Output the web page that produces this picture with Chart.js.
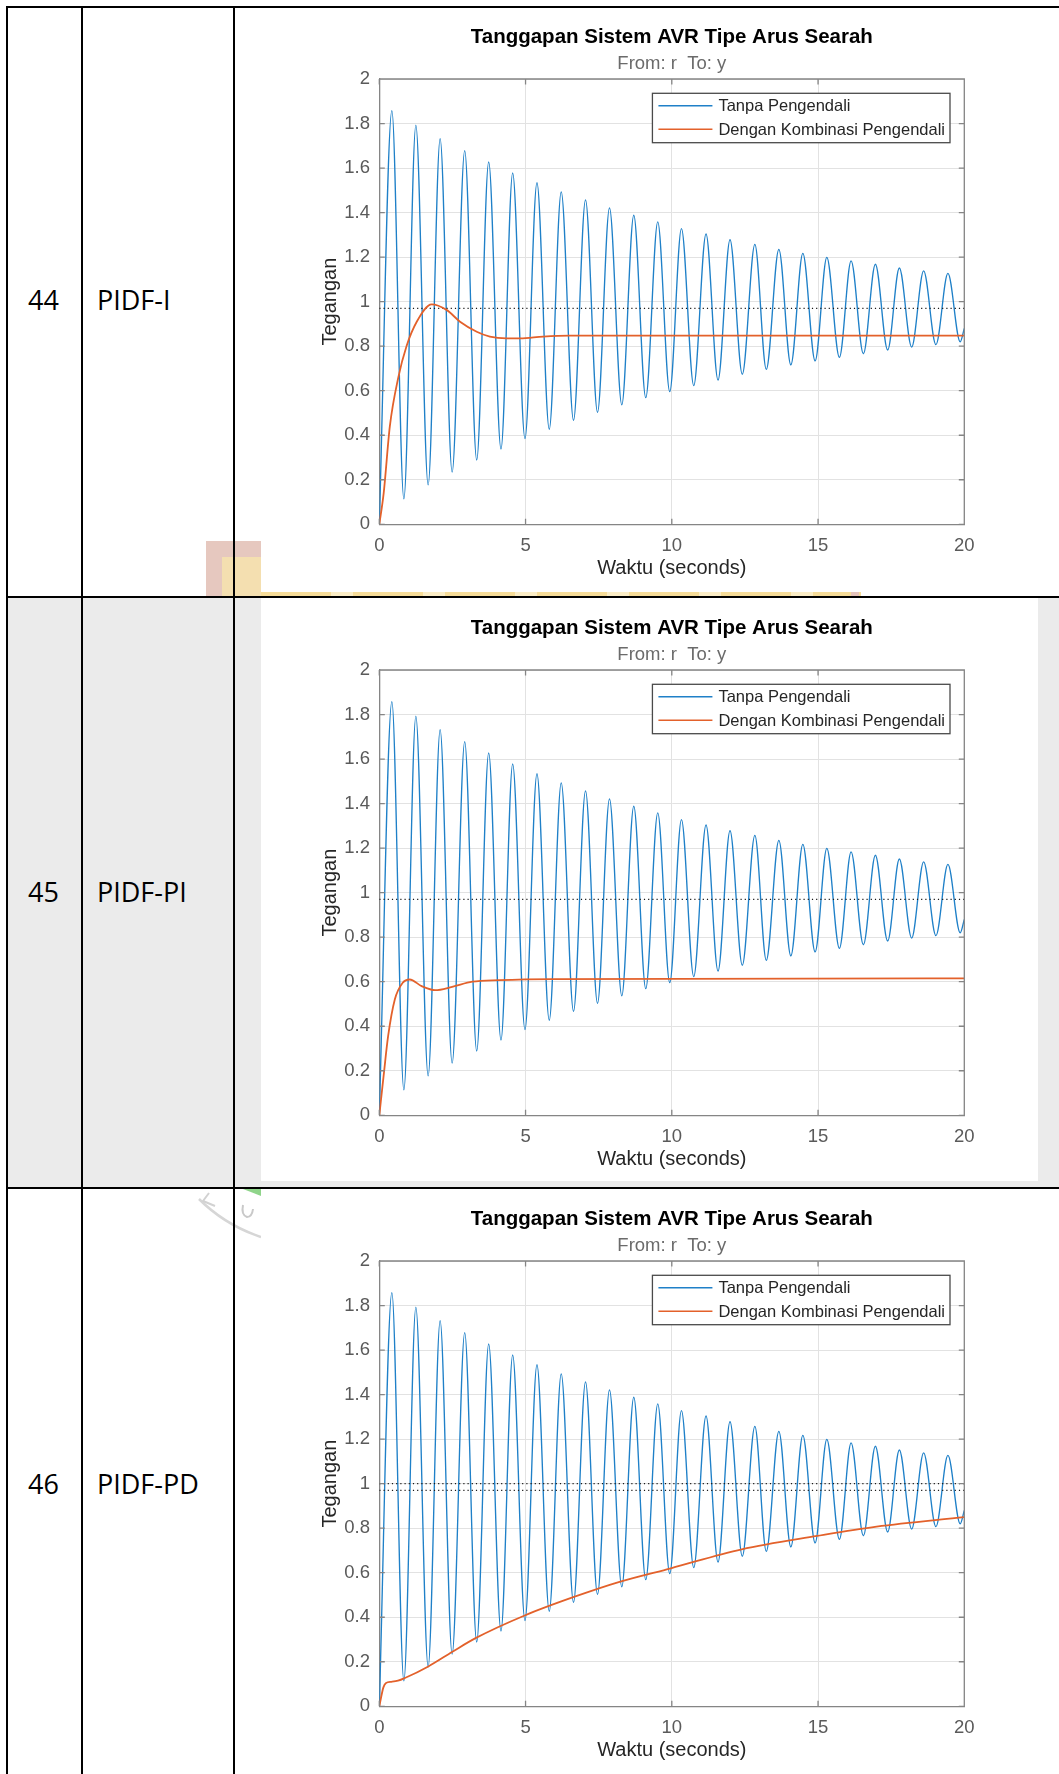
<!DOCTYPE html>
<html lang="id">
<head>
<meta charset="utf-8">
<title>Tanggapan Sistem AVR Tipe Arus Searah</title>
<script src="https://cdn.jsdelivr.net/npm/chart.js@4.4.1/dist/chart.umd.min.js"></script>
<style>
  html, body { margin: 0; padding: 0; background: #fff; }
  body { position: relative; width: 1059px; height: 1774px; overflow: hidden; }
  .cell-gray { position: absolute; left: 6px; top: 597px; width: 1053px; height: 591px; background: #ebebeb; }
  .shot { position: absolute; left: 261px; width: 777px; background: #fff; }
  .rule-h { position: absolute; left: 6px; width: 1053px; height: 2px; background: #000; }
  .rule-v { position: absolute; top: 6px; width: 2px; height: 1768px; background: #000; }
  .label { position: absolute; font-family: "Open Sans", "Noto Sans", sans-serif; font-size: 27px; line-height: 27px; color: #000; white-space: nowrap; }
  canvas { position: absolute; left: 261px; }
</style>
</head>
<body>
  <div class="cell-gray"></div>

  <!-- faint logo watermark showing around the pasted plots -->
  <div style="position:absolute;left:206px;top:541px;width:55px;height:56px;background:#e6c8bf"></div>
  <div style="position:absolute;left:222px;top:557px;width:39px;height:40px;background:#f4dfb0"></div>
  <div style="position:absolute;left:261px;top:588px;width:600px;height:9px;background:repeating-linear-gradient(90deg,#f6dc98 0 70px,#fbedc6 70px 92px)"></div>
  <div style="position:absolute;left:851px;top:578px;width:8px;height:19px;background:#e5c3bb"></div>
  <svg style="position:absolute;left:195px;top:1189px" width="66" height="55">
    <path d="M4 10 Q 30 36 66 48" fill="none" stroke="#d6d6d6" stroke-width="2.5"/>
    <path d="M14 4 L 8 12 L 20 17" fill="none" stroke="#d2d2d2" stroke-width="2"/>
    <path d="M48 16 q -2 10 4 12 q 5 0 6 -8" fill="none" stroke="#c9c9c9" stroke-width="2"/>
    <path d="M48 0 L 66 0 L 66 7 Z" fill="#8fd48a"/>
  </svg>

  <div class="shot" style="top:8px;height:584px"></div>
  <div class="shot" style="top:598px;height:583px"></div>
  <div class="shot" style="top:1189px;height:585px"></div>

  <canvas id="chart-pidf-i" width="776" height="583" style="top:9px"></canvas>
  <canvas id="chart-pidf-pi" width="776" height="583" style="top:600px"></canvas>
  <canvas id="chart-pidf-pd" width="776" height="583" style="top:1191px"></canvas>

  <div class="rule-h" style="top:6px"></div>
  <div class="rule-h" style="top:596px"></div>
  <div class="rule-h" style="top:1187px"></div>
  <div class="rule-v" style="left:6px"></div>
  <div class="rule-v" style="left:81px"></div>
  <div class="rule-v" style="left:233px"></div>

  <div class="label" style="left:28px;top:286px">44</div>
  <div class="label" style="left:97px;top:286px">PIDF-I</div>
  <div class="label" style="left:28px;top:878px">45</div>
  <div class="label" style="left:97px;top:878px">PIDF-PI</div>
  <div class="label" style="left:28px;top:1470px">46</div>
  <div class="label" style="left:97px;top:1470px">PIDF-PD</div>

<script>
Chart.defaults.font.family = '"Liberation Sans", Arial, sans-serif';

const xTicks = [0, 5, 10, 15, 20];
const xTickLabels = ['0', '5', '10', '15', '20'];
const yTicks = [0, 0.2, 0.4, 0.6, 0.8, 1, 1.2, 1.4, 1.6, 1.8, 2];
const yTickLabels = ['0', '0.2', '0.4', '0.6', '0.8', '1', '1.2', '1.4', '1.6', '1.8', '2'];

// Step response without controller (peaks and troughs), same in every plot
const tanpaTime = [
  0, 0.43, 0.84, 1.25, 1.67, 2.08, 2.49, 2.92, 3.33, 3.74, 4.16, 4.56, 4.98,
  5.39, 5.81, 6.22, 6.64, 7.05, 7.46, 7.87, 8.29, 8.70, 9.11, 9.52, 9.93,
  10.33, 10.75, 11.17, 11.58, 11.99, 12.41, 12.84, 13.23, 13.66, 14.07, 14.48,
  14.90, 15.30, 15.73, 16.13, 16.55, 16.96, 17.38, 17.78, 18.20, 18.61, 19.03,
  19.44, 19.86, 20,
];
const tanpaValue = [
  0, 1.858, 0.114, 1.793, 0.177, 1.732, 0.234, 1.678, 0.289, 1.627, 0.338, 1.578, 0.385,
  1.534, 0.427, 1.493, 0.467, 1.457, 0.503, 1.421, 0.537, 1.388, 0.569, 1.358, 0.596,
  1.328, 0.623, 1.304, 0.648, 1.278, 0.674, 1.257, 0.696, 1.235, 0.716, 1.217,
  0.734, 1.199, 0.750, 1.183, 0.766, 1.168, 0.783, 1.151, 0.796, 1.138, 0.807,
  1.127, 0.820, 0.88,
];

// Step responses with the controller combinations
const pidfITime = [0, 0.15, 0.36, 0.65, 0.93, 1.28, 1.79, 2.30, 2.76, 3.33, 3.78, 4.35, 4.81, 5.6, 6.5, 8, 20];
const pidfIValue = [0, 0.14, 0.44, 0.66, 0.80, 0.91, 0.988, 0.963, 0.91, 0.865, 0.843, 0.835, 0.835, 0.843, 0.847, 0.847, 0.847];

const pidfPITime = [0, 0.15, 0.3, 0.53, 0.8, 1.04, 1.45, 1.91, 2.49, 3.18, 4.1, 5.94, 20];
const pidfPIValue = [0, 0.18, 0.354, 0.52, 0.595, 0.61, 0.58, 0.562, 0.577, 0.60, 0.607, 0.612, 0.615];

const pidfPDTime = [0, 0.14, 0.23, 0.41, 0.64, 0.875, 1.66, 2.5, 3.29, 4.97, 6.63, 8.24, 9.97, 12.39, 14.97, 17, 20];
const pidfPDValue = [0, 0.085, 0.105, 0.11, 0.115, 0.127, 0.178, 0.245, 0.306, 0.408, 0.49, 0.56, 0.62, 0.705, 0.765, 0.807, 0.85];

// Final values marked with a dotted line
const steadyTanpa = 0.97;
const steadyPD = 1;

const blue = '#1f80c8';
const orange = '#e3612b';
const gridColor = '#e2e2e2';
const axisColor = '#858585';
const tickColor = '#5a5a5a';
const textColor = '#262626';

const toPoints = (xs, ys) => xs.map((x, i) => ({ x, y: ys[i] }));

// MATLAB-like frame: top/right box edges, inward ticks and a boxed legend
const matlabFrame = {
  id: 'matlabFrame',
  afterDraw(chart) {
    const { ctx, chartArea: a, scales } = chart;
    const tick = 5.5;
    ctx.save();
    ctx.strokeStyle = axisColor;
    ctx.lineWidth = 1.3;
    ctx.beginPath();
    ctx.moveTo(a.left, a.top);
    ctx.lineTo(a.right, a.top);
    ctx.lineTo(a.right, a.bottom);
    xTicks.forEach((v) => {
      const px = scales.x.getPixelForValue(v);
      ctx.moveTo(px, a.bottom); ctx.lineTo(px, a.bottom - tick);
      ctx.moveTo(px, a.top); ctx.lineTo(px, a.top + tick);
    });
    yTicks.forEach((v) => {
      const py = scales.y.getPixelForValue(v);
      ctx.moveTo(a.left, py); ctx.lineTo(a.left + tick, py);
      ctx.moveTo(a.right, py); ctx.lineTo(a.right - tick, py);
    });
    ctx.stroke();

    // Legend
    const entries = chart.data.datasets
      .filter((d) => d.legendRow !== undefined)
      .sort((p, q) => p.legendRow - q.legendRow);
    ctx.font = '16.5px "Liberation Sans", Arial, sans-serif';
    const textW = Math.max(...entries.map((d) => ctx.measureText(d.label).width));
    const w = 66 + textW + 5;
    const h = 49.4;
    const left = a.right - 14.3 - w;
    const top = a.top + 14.3;
    ctx.fillStyle = '#fff';
    ctx.fillRect(left, top, w, h);
    ctx.strokeStyle = '#4a4a4a';
    ctx.lineWidth = 1.3;
    ctx.strokeRect(left, top, w, h);
    ctx.textBaseline = 'middle';
    entries.forEach((d, i) => {
      const y = top + 12.4 + i * 23.6;
      ctx.strokeStyle = d.borderColor;
      ctx.lineWidth = 1.4;
      ctx.beginPath();
      ctx.moveTo(left + 6, y);
      ctx.lineTo(left + 60, y);
      ctx.stroke();
      ctx.fillStyle = textColor;
      ctx.fillText(d.label, left + 66, y + 1);
    });
    ctx.restore();
  },
};

const responseChart = (id, ctrlTime, ctrlValue, steadyLevels) => {
  const ctx = document.getElementById(id);
  if (!ctx) return null;

  const steadyLines = steadyLevels.map((level) => ({
    label: 'steady',
    data: [{ x: xTicks[0], y: level }, { x: xTicks[xTicks.length - 1], y: level }],
    borderColor: '#1a1a1a',
    borderWidth: 1.1,
    borderDash: [1.2, 3],
    order: 2,
  }));

  return new Chart(ctx, {
    type: 'line',
    data: {
      datasets: [
        {
          label: 'Dengan Kombinasi Pengendali',
          data: toPoints(ctrlTime, ctrlValue),
          borderColor: orange,
          borderWidth: 1.8,
          order: 1,
          legendRow: 1,
        },
        ...steadyLines,
        {
          label: 'Tanpa Pengendali',
          data: toPoints(tanpaTime, tanpaValue),
          borderColor: blue,
          borderWidth: 1.35,
          order: 3,
          legendRow: 0,
        },
      ],
    },
    options: {
      responsive: false,
      animation: false,
      layout: {
        padding: { left: 0, right: 72.7, top: 0, bottom: 0 },
      },
      elements: {
        point: { radius: 0 },
        line: { cubicInterpolationMode: 'monotone', fill: false },
      },
      plugins: {
        legend: { display: false },
        tooltip: { enabled: false },
        title: {
          display: true,
          text: 'Tanggapan Sistem AVR Tipe Arus Searah',
          color: '#000',
          fullSize: false,
          font: { size: 20.5, weight: 'bold' },
          padding: { top: 16, bottom: 0 },
        },
        subtitle: {
          display: true,
          text: 'From: r  To: y',
          color: '#6b6b6b',
          fullSize: false,
          font: { size: 18.5 },
          padding: { top: 3.6, bottom: 3.6 },
        },
      },
      scales: {
        x: {
          type: 'linear',
          min: xTicks[0],
          max: xTicks[xTicks.length - 1],
          afterBuildTicks: (scale) => { scale.ticks = xTicks.map((v) => ({ value: v })); },
          afterFit: (scale) => { scale.height = 67.7; },
          grid: { color: gridColor, lineWidth: 1, drawTicks: false },
          border: { display: true, color: axisColor, width: 1.3 },
          ticks: {
            color: tickColor,
            font: { size: 18.5 },
            padding: 10.6,
            maxRotation: 0,
            autoSkip: false,
            callback: (v, i) => xTickLabels[i],
          },
          title: {
            display: true,
            text: 'Waktu (seconds)',
            color: textColor,
            font: { size: 20 },
            padding: { top: 0, bottom: 11.7 },
          },
        },
        y: {
          type: 'linear',
          min: yTicks[0],
          max: yTicks[yTicks.length - 1],
          afterBuildTicks: (scale) => { scale.ticks = yTicks.map((v) => ({ value: v })); },
          afterFit: (scale) => { scale.width = 118.3; },
          grid: { color: gridColor, lineWidth: 1, drawTicks: false },
          border: { display: true, color: axisColor, width: 1.3 },
          ticks: {
            color: tickColor,
            font: { size: 18.5 },
            padding: 9.3,
            autoSkip: false,
            callback: (v, i) => yTickLabels[i],
          },
          title: {
            display: true,
            text: 'Tegangan',
            color: textColor,
            font: { size: 20 },
            padding: { top: 57.5, bottom: 0 },
          },
        },
      },
    },
    plugins: [matlabFrame],
  });
};

responseChart('chart-pidf-i', pidfITime, pidfIValue, [steadyTanpa]);
responseChart('chart-pidf-pi', pidfPITime, pidfPIValue, [steadyTanpa]);
responseChart('chart-pidf-pd', pidfPDTime, pidfPDValue, [steadyPD, steadyTanpa]);
</script>
</body>
</html>
